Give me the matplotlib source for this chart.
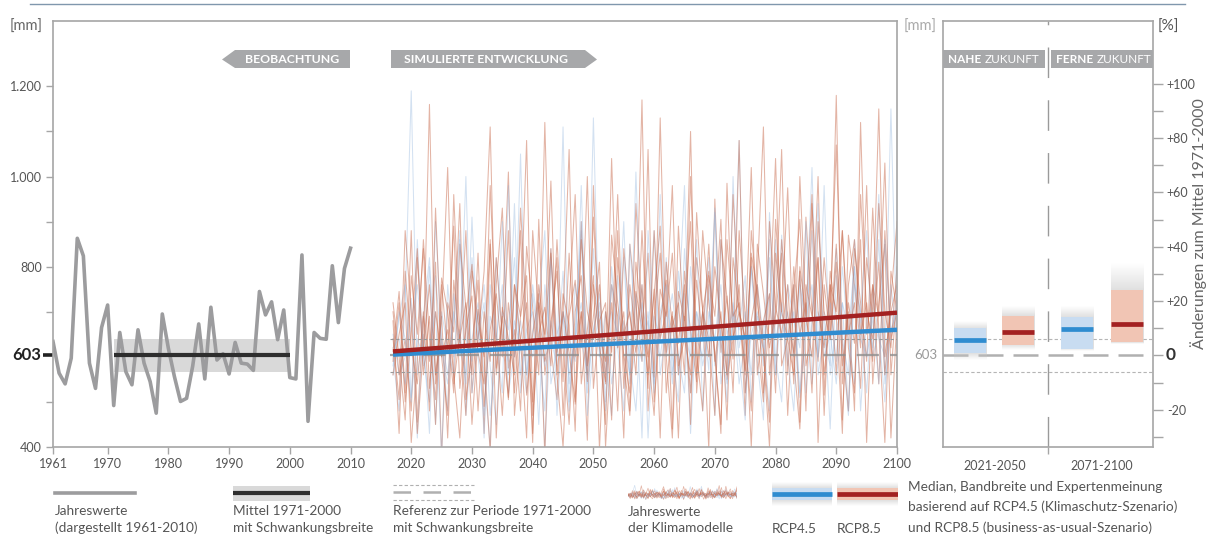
import matplotlib.pyplot as plt
import numpy as np
from matplotlib.patches import Polygon, Rectangle
from matplotlib.lines import Line2D
from matplotlib.transforms import blended_transform_factory

plt.rcParams['font.family'] = ['Lato', 'DejaVu Sans']

W, H = 1206, 535

# observed annual precipitation [mm], 1961-2010
obs_years = list(range(1961, 2011))
obs_values = [634, 564, 540, 597, 863, 824, 586, 530, 665, 715,
              492, 654, 567, 538, 660, 586, 545, 475, 695, 619,
              556, 501, 508, 579, 673, 551, 710, 593, 607, 562,
              632, 586, 584, 570, 745, 693, 722, 638, 704, 554,
              551, 826, 457, 654, 641, 639, 802, 676, 796, 841]

ref_mean = 603
ref_period = [1971, 2000]
ref_spread = 36

# climate model runs (annual values, mm), starting 2017
sim_start = 2017
sim_end = 2100
rcp85_runs = [
    [612, 745, 520, 880, 455, 690, 590, 810, 380, 720, 655, 940,
     505, 610, 770, 430, 860, 575, 690, 1010, 470, 640, 720, 410,
     905, 560, 675, 790, 545, 830, 600, 700, 415, 980, 620, 545,
     760, 690, 420, 850, 715, 590, 1060, 500, 680, 770, 440, 890,
     640, 560, 820, 705, 395, 950, 610, 735, 520, 880, 690, 400,
     775, 1110, 560, 690, 830, 470, 745, 905, 580, 660, 1000, 515,
     790, 690, 430, 870, 760, 620, 980, 540, 720, 850, 420, 690],
    [700, 560, 640, 480, 820, 610, 1160, 540, 690, 420, 770, 630,
     880, 520, 705, 600, 390, 760, 930, 575, 660, 480, 845, 710,
     560, 1120, 620, 505, 740, 670, 435, 900, 580, 690, 810, 400,
     640, 960, 585, 470, 745, 660, 830, 555, 1130, 610, 700, 420,
     790, 655, 545, 880, 720, 610, 430, 985, 640, 700, 560, 830,
     745, 520, 690, 1040, 580, 640, 760, 455, 910, 700, 590, 820,
     660, 1180, 540, 720, 630, 860, 410, 760, 690, 1030, 560, 740],
    [560, 650, 720, 410, 590, 860, 640, 505, 775, 700, 560, 420,
     690, 805, 610, 540, 980, 655, 470, 720, 600, 880, 515, 650,
     740, 380, 830, 610, 690, 1060, 495, 700, 580, 760, 640, 450,
     870, 720, 605, 520, 940, 690, 560, 750, 420, 810, 665, 720,
     560, 1000, 610, 480, 780, 690, 905, 550, 640, 760, 470, 880,
     720, 610, 400, 830, 700, 975, 590, 440, 760, 690, 820, 560,
     705, 1070, 630, 480, 840, 720, 590, 930, 660, 410, 790, 700],
    [680, 430, 790, 620, 540, 700, 480, 930, 600, 660, 520, 850,
     710, 450, 640, 790, 1110, 560, 690, 505, 760, 640, 420, 880,
     700, 590, 650, 820, 470, 715, 960, 540, 660, 780, 395, 700,
     610, 880, 530, 760, 650, 1170, 480, 690, 830, 600, 420, 745,
     680, 900, 560, 700, 640, 470, 860, 730, 595, 1080, 520, 680,
     760, 620, 455, 905, 700, 640, 560, 800, 690, 960, 410, 760,
     640, 850, 580, 700, 480, 1120, 650, 760, 540, 880, 640, 700],
    [590, 720, 500, 650, 840, 560, 690, 450, 760, 615, 890, 530,
     660, 735, 480, 700, 590, 820, 640, 510, 760, 690, 1080, 470,
     650, 710, 580, 860, 620, 450, 700, 780, 545, 910, 650, 590,
     720, 480, 840, 690, 610, 760, 530, 880, 640, 700, 980, 560,
     690, 520, 770, 640, 850, 590, 700, 460, 820, 700, 640, 1020,
     560, 680, 740, 520, 860, 690, 610, 790, 480, 940, 700, 620,
     760, 560, 880, 650, 720, 530, 820, 690, 1150, 600, 700, 760],
    [640, 505, 880, 700, 430, 620, 760, 560, 690, 1020, 540, 650,
     470, 790, 680, 600, 850, 420, 710, 640, 560, 930, 680, 500,
     760, 640, 840, 560, 400, 690, 770, 620, 1000, 530, 680, 720,
     460, 820, 650, 700, 560, 880, 610, 470, 750, 690, 830, 580,
     640, 1100, 520, 700, 790, 600, 450, 860, 690, 720, 570, 820,
     640, 500, 900, 710, 650, 760, 540, 1000, 690, 600, 820, 470,
     760, 700, 880, 620, 520, 960, 700, 640, 810, 560, 730, 900],
    [720, 600, 460, 780, 650, 840, 530, 700, 600, 470, 960, 640,
     720, 560, 830, 490, 660, 740, 600, 880, 520, 690, 780, 430,
     720, 650, 990, 560, 700, 610, 500, 860, 700, 640, 760, 540,
     1040, 620, 700, 480, 810, 680, 600, 740, 890, 520, 690, 630,
     760, 450, 920, 700, 600, 800, 680, 560, 960, 700, 640, 480,
     850, 740, 620, 700, 1060, 560, 800, 650, 720, 520, 900, 700,
     640, 810, 460, 760, 860, 650, 720, 590, 940, 700, 620, 800],
]
rcp45_runs = [
    [600, 480, 720, 1190, 560, 650, 430, 780, 610, 540, 690, 880,
     470, 640, 720, 560, 400, 820, 650, 590, 940, 520, 660, 700,
     450, 760, 640, 580, 1110, 500, 640, 720, 560, 840, 610, 480,
     700, 650, 900, 540, 620, 760, 420, 690, 640, 820, 560, 700,
     980, 520, 640, 600, 760, 470, 860, 650, 700, 540, 640, 800,
     590, 460, 920, 640, 700, 580, 760, 510, 650, 880, 600, 700,
     440, 780, 640, 560, 860, 680, 520, 750, 640, 600, 1150, 620],
    [650, 560, 600, 730, 420, 690, 820, 560, 640, 480, 740, 630,
     560, 910, 600, 470, 690, 640, 760, 520, 610, 1050, 560, 660,
     720, 400, 680, 600, 790, 540, 650, 880, 470, 620, 700, 560,
     760, 620, 480, 850, 640, 590, 700, 520, 960, 600, 680, 560,
     740, 430, 700, 640, 820, 580, 660, 500, 1000, 620, 700, 560,
     760, 640, 480, 860, 640, 700, 600, 780, 520, 680, 940, 600,
     650, 540, 720, 660, 800, 480, 690, 620, 860, 560, 700, 640],
    [560, 700, 640, 500, 860, 580, 620, 700, 380, 760, 600, 660,
     540, 820, 640, 720, 470, 600, 900, 560, 680, 620, 520, 760,
     650, 580, 840, 470, 700, 640, 590, 980, 540, 660, 720, 500,
     800, 620, 680, 560, 740, 420, 880, 640, 600, 700, 540, 790,
     650, 600, 860, 480, 700, 640, 760, 560, 680, 1080, 520, 650,
     700, 580, 820, 600, 500, 760, 680, 620, 900, 540, 700, 640,
     580, 840, 620, 470, 760, 700, 600, 680, 960, 540, 650, 720],
    [620, 640, 540, 680, 760, 600, 500, 900, 640, 560, 700, 620,
     1000, 520, 640, 760, 580, 450, 700, 660, 820, 560, 640, 600,
     720, 880, 540, 620, 690, 480, 760, 640, 560, 1130, 600, 700,
     540, 650, 820, 590, 480, 720, 640, 880, 560, 660, 740, 600,
     520, 800, 640, 700, 570, 930, 620, 540, 700, 660, 780, 500,
     690, 640, 860, 560, 720, 600, 480, 760, 680, 1020, 560, 650,
     720, 590, 800, 640, 540, 700, 880, 600, 660, 500, 760, 640],
    [580, 690, 760, 510, 640, 600, 800, 450, 700, 620, 560, 860,
     640, 590, 700, 420, 760, 640, 520, 980, 600, 680, 560, 740,
     620, 480, 820, 650, 700, 560, 640, 900, 520, 660, 740, 600,
     470, 780, 640, 560, 1010, 620, 680, 540, 700, 760, 600, 500,
     840, 640, 700, 580, 660, 920, 540, 640, 720, 600, 460, 800,
     660, 620, 740, 560, 870, 640, 700, 520, 680, 760, 600, 980,
     560, 660, 720, 480, 800, 640, 600, 700, 540, 860, 660, 700],
]

trend_years = [2017, 2100]
rcp85_trend = [612, 698]
rcp45_trend = [605, 660]

# right panel: change relative to 1971-2000 [%]
periods = ['2021-2050', '2071-2100']
rcp45_median = [5.6, 9.8]
rcp45_lo = [1.0, 2.5]
rcp45_hi = [10.0, 14.0]
rcp45_exp_lo = [-1.5, 1.5]
rcp45_exp_hi = [12.8, 18.0]
rcp85_median = [8.6, 11.6]
rcp85_lo = [4.0, 5.0]
rcp85_hi = [14.5, 24.0]
rcp85_exp_lo = [2.0, 4.4]
rcp85_exp_hi = [18.0, 34.0]

C_SPINE = '#a6a6a6'
C_TEXT = '#555555'
C_TAG = '#a7a8aa'
C_RED = '#a32121'
C_BLUE = '#2f8cd0'
C_RED_THIN = '#c86a4c'
C_BLUE_THIN = '#93b6de'


def fx(x):
    return x / W


def fy(y):
    return 1 - y / H


def pct(mm):
    return (mm / ref_mean - 1) * 100


fig = plt.figure(figsize=(W / 100, H / 100), dpi=100)
renderer = fig.canvas.get_renderer()

fig.add_artist(Line2D([fx(30), fx(1185)], [fy(4), fy(4)], transform=fig.transFigure,
                      color='#8097ad', lw=1))

# ---------------- main panel ----------------
ax = fig.add_axes([fx(53), fy(447), 844 / W, 426 / H])
ax.set_xlim(1961, 2100)
ax.set_ylim(400, 1345)
for s in ax.spines.values():
    s.set_color(C_SPINE)
    s.set_linewidth(1.2)

ax.set_xticks([1961, 1970, 1980, 1990, 2000, 2010, 2020, 2030, 2040, 2050,
               2060, 2070, 2080, 2090, 2100])
ax.set_yticks([400, 800, 1000, 1200])
ax.set_yticklabels(['400', '800', '1.000', '1.200'])
ax.set_yticks([500, 700, 900, 1100], minor=True)
ax.tick_params(axis='both', which='both', colors=C_SPINE, labelcolor=C_TEXT,
               labelsize=9, length=5, width=1, pad=3)

blend = blended_transform_factory(ax.transAxes, ax.transData)
ax.plot([-0.012, 0], [ref_mean, ref_mean], transform=blend, clip_on=False,
        color='#222222', lw=2.6, solid_capstyle='butt')
ax.text(-0.014, ref_mean, '603', transform=blend, ha='right', va='center',
        fontsize=12, fontweight='bold', color='#222222')

# observations
ax.fill_between(ref_period, ref_mean - ref_spread, ref_mean + ref_spread,
                color='#d9d9d9', lw=0, zorder=1)
ax.plot(obs_years, obs_values, color='#9c9c9e', lw=2.6, zorder=2)
ax.plot(ref_period, [ref_mean, ref_mean], color='#2e2e2e', lw=3, zorder=3,
        solid_capstyle='butt')

# model runs
runs = []
for i in range(max(len(rcp85_runs), len(rcp45_runs))):
    if i < len(rcp45_runs):
        runs.append((rcp45_runs[i], C_BLUE_THIN, 0.4))
    if i < len(rcp85_runs):
        runs.append((rcp85_runs[i], C_RED_THIN, 0.5))
for run, col, a in runs:
    yrs = np.arange(sim_start, sim_start + len(run))
    ax.plot(yrs, run, color=col, lw=0.75, alpha=a, zorder=2)

ax.plot([sim_start - 0.5, sim_end], [ref_mean + ref_spread] * 2, color='#9a9a9a',
        lw=0.8, dashes=(3, 2), zorder=4)
ax.plot([sim_start - 0.5, sim_end], [ref_mean - ref_spread] * 2, color='#9a9a9a',
        lw=0.8, dashes=(3, 2), zorder=4)
ax.plot([sim_start - 0.5, sim_end], [ref_mean] * 2, color='#8f8f8f', lw=1.6,
        dashes=(10, 5), alpha=0.8, zorder=4)

ax.plot(trend_years, rcp45_trend, color=C_BLUE, lw=3.2, zorder=5, solid_capstyle='butt')
ax.plot(trend_years, rcp85_trend, color=C_RED, lw=3.2, zorder=6, solid_capstyle='butt')

fig.text(fx(10), fy(27), '[mm]', fontsize=10.5, color='#666666', va='center')

# tags
fig.add_artist(Polygon([(fx(222), fy(59.5)), (fx(235), fy(50)), (fx(350), fy(50)),
                        (fx(350), fy(68)), (fx(235), fy(68))],
                       transform=fig.transFigure, color=C_TAG, lw=0))
fig.text(fx(292), fy(59.5), 'BEOBACHTUNG', color='white', fontweight='bold',
         fontsize=8.8, ha='center', va='center')
fig.add_artist(Polygon([(fx(391), fy(50)), (fx(585), fy(50)), (fx(597), fy(59.5)),
                        (fx(585), fy(68)), (fx(391), fy(68))],
                       transform=fig.transFigure, color=C_TAG, lw=0))
fig.text(fx(486), fy(59.5), 'SIMULIERTE ENTWICKLUNG', color='white', fontweight='bold',
         fontsize=8.8, ha='center', va='center')

# ---------------- right panel ----------------
axr = fig.add_axes([fx(943), fy(447), 210 / W, 426 / H])
axr.set_xlim(0, 4)
axr.set_ylim(pct(400), pct(1345))
for s in axr.spines.values():
    s.set_color(C_SPINE)
    s.set_linewidth(1.2)
axr.yaxis.tick_right()
axr.set_yticks([-20, 0, 20, 40, 60, 80, 100])
axr.set_yticklabels(['-20', '', '+20', '+40', '+60', '+80', '+100'])
axr.set_yticks([-30, -10, 10, 30, 50, 70, 90], minor=True)
axr.tick_params(axis='y', which='both', colors=C_SPINE, labelcolor=C_TEXT,
                labelsize=9, length=7, width=1, pad=3)
axr.set_xticks([0.99, 3.03])
axr.set_xticklabels(periods)
axr.set_xticks([2], minor=True)
axr.tick_params(axis='x', which='major', length=0, labelsize=9, labelcolor=C_TEXT, pad=9)
axr.tick_params(axis='x', which='minor', length=5, width=1, colors=C_SPINE)

blend_r = blended_transform_factory(axr.transAxes, axr.transData)
axr.text(1.06, 0, '0', transform=blend_r, ha='left', va='center', fontsize=12.5,
         fontweight='bold', color='#333333')
axr.text(-0.025, 0, '603', transform=blend_r, ha='right', va='center', fontsize=9.5,
         color='#9a9a9a')

axr.axvline(2, color='#9a9a9a', lw=1, dashes=(22, 16), zorder=1)
axr.axhline(pct(ref_mean + ref_spread), color='#b5b5b5', lw=0.8, dashes=(3, 2), zorder=1)
axr.axhline(pct(ref_mean - ref_spread), color='#b5b5b5', lw=0.8, dashes=(3, 2), zorder=1)
axr.axhline(0, color='#b0b0b0', lw=1.8, dashes=(10, 4), zorder=1)


def gray_fade(a, x0, x1, lo, hi, blo, bhi):
    ys = np.linspace(lo, hi, 200)
    alpha = np.where(ys > bhi, 0.55 * (hi - ys) / max(hi - bhi, 1e-6),
                     np.where(ys < blo, 0.55 * (ys - lo) / max(blo - lo, 1e-6), 0.55))
    img = np.zeros((200, 1, 4))
    img[..., :3] = 0.78
    img[:, 0, 3] = np.clip(alpha, 0, 1)
    a.imshow(img, extent=[x0, x1, lo, hi], origin='lower', aspect='auto',
             interpolation='bilinear', zorder=2)


bw = 0.61
xs45 = [0.51, 2.55]
xs85 = [1.43, 3.5]
for i in range(len(periods)):
    for xc, med, lo, hi, elo, ehi, cband, cline in [
            (xs45[i], rcp45_median[i], rcp45_lo[i], rcp45_hi[i], rcp45_exp_lo[i],
             rcp45_exp_hi[i], '#c8dcf1', C_BLUE),
            (xs85[i], rcp85_median[i], rcp85_lo[i], rcp85_hi[i], rcp85_exp_lo[i],
             rcp85_exp_hi[i], '#f1c5b4', C_RED)]:
        gray_fade(axr, xc - bw / 2, xc + bw / 2, elo, ehi, lo, hi)
        axr.add_patch(Rectangle((xc - bw / 2, lo), bw, hi - lo, color=cband, lw=0, zorder=3))
        axr.hlines(med, xc - bw / 2, xc + bw / 2, color=cline, lw=3.4, zorder=5)
axr.set_xlim(0, 4)
axr.set_ylim(pct(400), pct(1345))

fig.text(fx(904), fy(27), '[mm]', fontsize=10.5, color='#aaaaaa', va='center')
fig.text(fx(1158), fy(27), '[%]', fontsize=11, color='#555555', va='center')
fig.text(fx(1199), fy(224), 'Änderungen zum Mittel 1971-2000', rotation=90, fontsize=11.5,
         color='#666666', ha='center', va='center')

for x0, x1, bold in [(943, 1045, 'NAHE'), (1051, 1153, 'FERNE')]:
    fig.add_artist(Rectangle((fx(x0), fy(68)), (x1 - x0) / W, 18 / H,
                             transform=fig.transFigure, color=C_TAG, lw=0))
    tb = fig.text(fx(x0 + 5), fy(59.5), bold, color='white', fontweight='bold',
                  fontsize=8.5, ha='left', va='center')
    bb = tb.get_window_extent(renderer)
    fig.text(bb.x1 / W + fx(3.5), fy(59.5), 'ZUKUNFT', color='white', fontsize=8.5,
             ha='left', va='center')

# ---------------- legend ----------------
fs_leg = 9.8
fig.add_artist(Line2D([fx(55), fx(135)], [fy(493)] * 2, transform=fig.transFigure,
                      color='#9c9c9e', lw=2.6))
fig.text(fx(55), fy(511), 'Jahreswerte', fontsize=fs_leg, color=C_TEXT, va='center')
fig.text(fx(55), fy(528), '(dargestellt 1961-2010)', fontsize=fs_leg, color=C_TEXT, va='center')

fig.add_artist(Rectangle((fx(233), fy(501)), 77 / W, 15 / H, transform=fig.transFigure,
                         color='#d9d9d9', lw=0))
fig.add_artist(Line2D([fx(233), fx(310)], [fy(493)] * 2, transform=fig.transFigure,
                      color='#2e2e2e', lw=3, solid_capstyle='butt'))
fig.text(fx(233), fy(511), 'Mittel 1971-2000', fontsize=fs_leg, color=C_TEXT, va='center')
fig.text(fx(233), fy(528), 'mit Schwankungsbreite', fontsize=fs_leg, color=C_TEXT, va='center')

for yy in (485, 500):
    fig.add_artist(Line2D([fx(393), fx(474)], [fy(yy)] * 2, transform=fig.transFigure,
                          color='#b0b0b0', lw=0.8, dashes=(3, 2)))
fig.add_artist(Line2D([fx(393), fx(474)], [fy(492)] * 2, transform=fig.transFigure,
                      color='#b0b0b0', lw=1.8, dashes=(7, 5)))
fig.text(fx(393), fy(511), 'Referenz zur Periode 1971-2000', fontsize=fs_leg, color=C_TEXT,
         va='center')
fig.text(fx(393), fy(528), 'mit Schwankungsbreite', fontsize=fs_leg, color=C_TEXT, va='center')

axs = fig.add_axes([fx(628), fy(500), 109 / W, 15 / H])
for run, col, a in runs:
    axs.plot(np.arange(len(run[:50])), run[:50], color=col, lw=0.5, alpha=a)
axs.set_xlim(0, 49)
axs.set_ylim(350, 1200)
axs.axis('off')
fig.text(fx(628), fy(512), 'Jahreswerte', fontsize=fs_leg, color=C_TEXT, va='center')
fig.text(fx(628), fy(528), 'der Klimamodelle', fontsize=fs_leg, color=C_TEXT, va='center')

axl = fig.add_axes([fx(772), fy(506), 126 / W, 24 / H])
axl.axis('off')
for x0, x1, cband, cline in [(772, 832, '#c8dcf1', C_BLUE), (837, 898, '#f1c5b4', C_RED)]:
    gray_fade(axl, x0, x1, 0, 24, 6, 18)
    axl.add_patch(Rectangle((x0, 6), x1 - x0, 12, color=cband, lw=0, zorder=3))
    axl.hlines(12, x0, x1, color=cline, lw=3.4, zorder=5)
axl.set_xlim(772, 898)
axl.set_ylim(0, 24)
fig.text(fx(772), fy(529), 'RCP4.5', fontsize=fs_leg, color=C_TEXT, va='center')
fig.text(fx(837), fy(529), 'RCP8.5', fontsize=fs_leg, color=C_TEXT, va='center')

fig.text(fx(908), fy(487), 'Median, Bandbreite und Expertenmeinung', fontsize=fs_leg,
         color=C_TEXT, va='center')
fig.text(fx(908), fy(507), 'basierend auf RCP4.5 (Klimaschutz-Szenario)', fontsize=fs_leg,
         color=C_TEXT, va='center')
fig.text(fx(908), fy(528), 'und RCP8.5 (business-as-usual-Szenario)', fontsize=fs_leg,
         color=C_TEXT, va='center')

fig.savefig('out.png', dpi=100)
